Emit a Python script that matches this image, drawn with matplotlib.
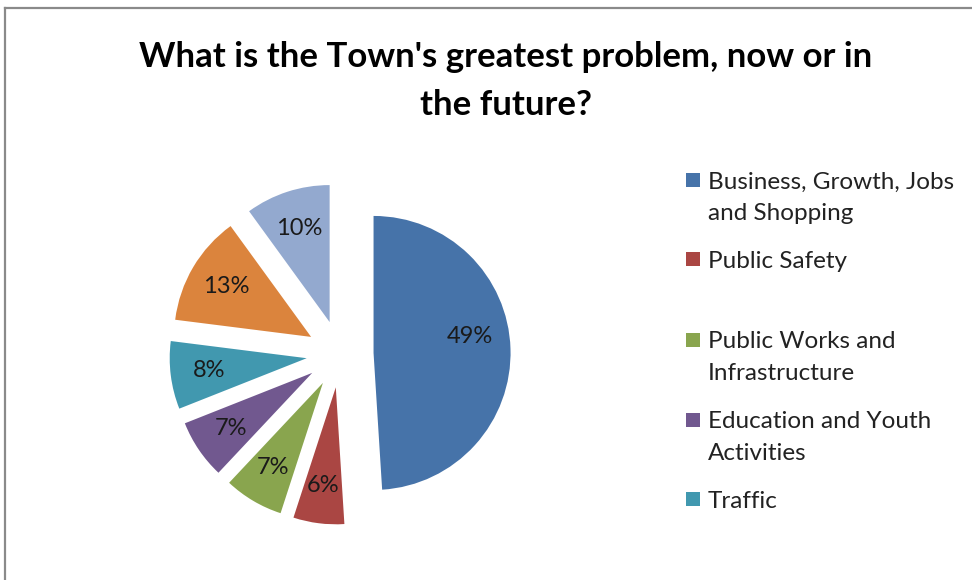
import matplotlib
matplotlib.use("Agg")
import matplotlib.pyplot as plt
from matplotlib.patches import Rectangle
from matplotlib.lines import Line2D

# Survey shares (percent), clockwise from 12 o'clock
shares = [49, 6, 7, 7, 8, 13, 10]
colors = ["#4673A9", "#AA4643", "#89A54E", "#71588F", "#4198AF", "#DB843D", "#93A9CF"]
legend_labels = [
    "Business, Growth, Jobs\nand Shopping",
    "Public Safety",
    "Public Works and\nInfrastructure",
    "Education and Youth\nActivities",
    "Traffic",
]
title = "What is the Town's greatest problem, now or in\nthe future?"

plt.rcParams["font.family"] = ["Lato", "DejaVu Sans"]

W, H = 972, 580
fig = plt.figure(figsize=(W / 100, H / 100), dpi=100)
fig.patch.set_facecolor("white")

# Pie axes: square, centred on the pie centre, unit radius = 137 px
cx, cy, rpx = 340, 354, 137
L = 1.6
half = L * rpx
ax = fig.add_axes([(cx - half) / W, (H - cy - half) / H, 2 * half / W, 2 * half / H])

explode = [0.245] * len(shares)
wedges, texts, autotexts = ax.pie(
    shares,
    colors=colors,
    explode=explode,
    startangle=90,
    counterclock=False,
    autopct=lambda p: f"{p:.0f}%",
    pctdistance=0.72,
    radius=1.0,
    textprops=dict(fontsize=17, color="#1a1a1a"),
    wedgeprops=dict(linewidth=0),
)
ax.set_xlim(-L, L)
ax.set_ylim(-L, L)
ax.set_aspect("equal")
ax.axis("off")

# nudge the large slice label upward a touch
x, y = autotexts[0].get_position()
autotexts[0].set_position((x - 0.02, y + 0.1))

# Title
fig.text(506 / W, 1 - 81 / H, title, ha="center", va="center", fontsize=25,
         fontweight="bold", color="black", linespacing=1.6)

# Legend drawn entry by entry at a fixed pitch; wrapped lines 31 px apart
entry_y = [180, 259, 340, 420, 499]
line_gap = 31
for lab, col, yy in zip(legend_labels, colors, entry_y):
    fig.patches.append(Rectangle((686 / W, 1 - (yy + 7) / H), 14 / W, 14 / H,
                                 transform=fig.transFigure, facecolor=col,
                                 edgecolor="none"))
    for i, line in enumerate(lab.split("\n")):
        fig.text(708 / W, 1 - (yy + i * line_gap) / H, line, ha="left",
                 va="center_baseline", fontsize=17.5, color="#222222")

# Chart-area frame (left and top edges)
fig.lines.append(Line2D([5 / W, 5 / W], [0, 1 - 8 / H], transform=fig.transFigure,
                        color="#8a8a8a", linewidth=1.6))
fig.lines.append(Line2D([5 / W, 1], [1 - 8 / H, 1 - 8 / H], transform=fig.transFigure,
                        color="#8a8a8a", linewidth=1.6))

fig.savefig("out.png", dpi=100)
